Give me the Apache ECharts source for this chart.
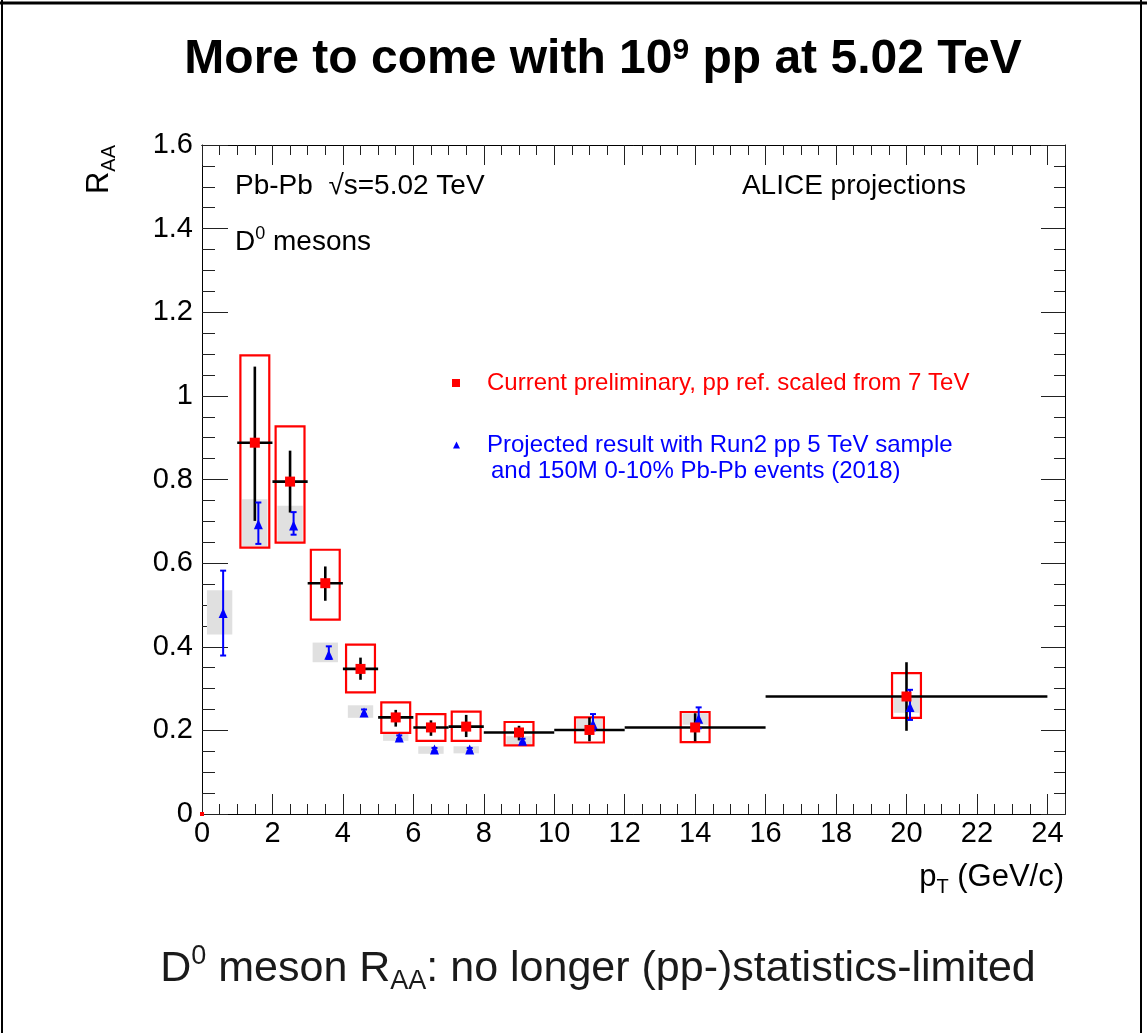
<!DOCTYPE html>
<html><head><meta charset="utf-8">
<script src="https://cdn.jsdelivr.net/npm/echarts@6/dist/echarts.min.js"></script>
<style>html,body{margin:0;padding:0;background:#fff}#c{width:1147px;height:1033px}</style>
</head><body><div id="c"></div>
<script>
// ---- Current preliminary (red) ----
const redX      = [1.5, 2.5, 3.5, 4.5, 5.5, 6.5, 7.5, 9, 11, 14, 20];
const redXLo    = [1, 2, 3, 4, 5, 6, 7, 8, 10, 12, 16];
const redXHi    = [2, 3, 4, 5, 6, 7, 8, 10, 12, 16, 24];
const redY      = [0.888, 0.795, 0.552, 0.347, 0.231, 0.207, 0.209, 0.195, 0.201, 0.207, 0.281];
const redStatLo = [0.701, 0.721, 0.510, 0.321, 0.209, 0.187, 0.184, 0.176, 0.174, 0.174, 0.199];
const redStatHi = [1.070, 0.869, 0.592, 0.374, 0.249, 0.224, 0.237, 0.211, 0.231, 0.241, 0.363];
const redSysLo  = [0.637, 0.649, 0.465, 0.291, 0.194, 0.175, 0.175, 0.164, 0.171, 0.172, 0.230];
const redSysHi  = [1.097, 0.927, 0.632, 0.405, 0.267, 0.239, 0.245, 0.220, 0.231, 0.244, 0.337];
const redOrigin = [[0, 0]];

// ---- Projected (blue) ----
const blueX      = [0.6, 1.6, 2.6, 3.6, 4.6, 5.6, 6.6, 7.6, 9.1, 11.1, 14.1, 20.1];
const blueBoxX   = [0.5, 1.5, 2.5, 3.5, 4.5, 5.5, 6.5, 7.5, 9, 11, 14, 20];
const blueY      = [0.481, 0.693, 0.690, 0.381, 0.243, 0.183, 0.154, 0.154, 0.175, 0.215, 0.228, 0.256];
const blueErrLo  = [0.379, 0.646, 0.668, 0.371, 0.238, 0.179, 0.150, 0.150, 0.171, 0.200, 0.205, 0.225];
const blueErrHi  = [0.582, 0.745, 0.722, 0.401, 0.250, 0.188, 0.158, 0.158, 0.180, 0.239, 0.255, 0.297];
const blueSysLo  = [0.429, 0.640, 0.652, 0.363, 0.230, 0.175, 0.144, 0.145, 0.167, 0.200, 0.2135, 0.242];
const blueSysHi  = [0.535, 0.753, 0.737, 0.410, 0.260, 0.191, 0.162, 0.162, 0.186, 0.227, 0.241, 0.279];

const RED_NAME  = 'Current preliminary, pp ref. scaled from 7 TeV';
const BLUE_NAME = 'Projected result with Run2 pp 5 TeV sample';
const BLUE_NAME2 = 'and 150M 0-10% Pb-Pb events (2018)';

const FONT = 'Liberation Sans, Arial, Helvetica, sans-serif';
const RED_BOX_HW = 0.41, BLUE_BOX_HW = 0.36;

const chart = echarts.init(document.getElementById('c'), null, {renderer: 'canvas'});

function xAx(pos, interval, tickLen, labels) {
  return {
    type: 'value', min: 0, max: 24.5, interval: interval, position: pos, gridIndex: 0,
    axisLine: {show: true, onZero: false, lineStyle: {color: '#000', width: 1}},
    axisTick: {show: true, inside: true, length: tickLen, lineStyle: {color: '#222', width: 1}},
    axisLabel: {show: labels, fontSize: 29, color: '#000', fontFamily: FONT, margin: 5,
      formatter: v => (Math.abs(v % 2) < 1e-9 ? String(v) : '')},
    splitLine: {show: false}
  };
}
function yAx(pos, majorLen, minorLen, labels) {
  return {
    type: 'value', min: 0, max: 1.6, interval: 0.2, position: pos, gridIndex: 0,
    axisLine: {show: true, onZero: false, lineStyle: {color: '#000', width: 1}},
    axisTick: {show: true, inside: true, length: majorLen, lineStyle: {color: '#222', width: 1}},
    minorTick: {show: true, splitNumber: 4, length: minorLen, lineStyle: {color: '#222', width: 1}},
    axisLabel: {show: labels, fontSize: 29, color: '#000', fontFamily: FONT, margin: 9},
    splitLine: {show: false}, minorSplitLine: {show: false}
  };
}

const option = {
  animation: false,
  backgroundColor: '#fff',
  grid: {left: 202, right: 82, top: 145, bottom: 219, containLabel: false},
  xAxis: [xAx('bottom', 2, 20, true), xAx('bottom', 0.5, 10, false), xAx('top', 2, 20, false), xAx('top', 0.5, 10, false)],
  yAxis: [yAx('left', 26, 13, true), yAx('right', 24, 11, false)],
  legend: [
    {data: [{name: RED_NAME, icon: 'rect'}], left: 447, top: 366, itemWidth: 8, itemHeight: 8,
     selectedMode: false, textStyle: {color: '#f00', fontSize: 24, fontFamily: FONT, padding: [0, 0, 0, 22]}},
    {data: [{name: BLUE_NAME, icon: 'triangle'}], left: 448, top: 428, itemWidth: 7, itemHeight: 7,
     selectedMode: false, textStyle: {color: '#00f', fontSize: 24, fontFamily: FONT, padding: [0, 0, 0, 22]}}
  ],
  series: [
    { // blue systematic boxes
      type: 'custom', name: 'blueSys', silent: true, z: 2,
      data: blueBoxX.map((x, i) => [x, blueSysLo[i], blueSysHi[i]]),
      renderItem: (p, api) => {
        const a = api.coord([api.value(0) - BLUE_BOX_HW, api.value(2)]);
        const b = api.coord([api.value(0) + BLUE_BOX_HW, api.value(1)]);
        return {type: 'rect', shape: {x: a[0], y: a[1], width: b[0] - a[0], height: b[1] - a[1]},
                style: {fill: '#e0e0e0'}};
      }
    },
    { // red systematic boxes
      type: 'custom', name: 'redSys', silent: true, z: 3,
      data: redX.map((x, i) => [x, redSysLo[i], redSysHi[i]]),
      renderItem: (p, api) => {
        const a = api.coord([api.value(0) - RED_BOX_HW, api.value(2)]);
        const b = api.coord([api.value(0) + RED_BOX_HW, api.value(1)]);
        return {type: 'rect', shape: {x: a[0], y: a[1], width: b[0] - a[0], height: b[1] - a[1]},
                style: {fill: 'none', stroke: '#ff0000', lineWidth: 2.2}};
      }
    },
    { // black stat errors + bin widths
      type: 'custom', name: 'redStat', silent: true, z: 4,
      data: redX.map((x, i) => [x, redY[i], redXLo[i], redXHi[i], redStatLo[i], redStatHi[i]]),
      renderItem: (p, api) => {
        const l = api.coord([api.value(2), api.value(1)]);
        const r = api.coord([api.value(3), api.value(1)]);
        const t = api.coord([api.value(0), api.value(5)]);
        const b = api.coord([api.value(0), api.value(4)]);
        const st = {stroke: '#000', lineWidth: 2.6};
        return {type: 'group', children: [
          {type: 'line', shape: {x1: l[0], y1: l[1], x2: r[0], y2: r[1]}, style: st},
          {type: 'line', shape: {x1: t[0], y1: t[1], x2: b[0], y2: b[1]}, style: st}
        ]};
      }
    },
    { // blue stat errors
      type: 'custom', name: 'blueStat', silent: true, z: 5,
      data: blueX.map((x, i) => [x, blueErrLo[i], blueErrHi[i]]),
      renderItem: (p, api) => {
        const t = api.coord([api.value(0), api.value(2)]);
        const b = api.coord([api.value(0), api.value(1)]);
        const st = {stroke: '#0000ff', lineWidth: 2};
        const cw = 3;
        return {type: 'group', children: [
          {type: 'line', shape: {x1: t[0], y1: t[1], x2: b[0], y2: b[1]}, style: st},
          {type: 'line', shape: {x1: t[0] - cw, y1: t[1], x2: t[0] + cw, y2: t[1]}, style: st},
          {type: 'line', shape: {x1: b[0] - cw, y1: b[1], x2: b[0] + cw, y2: b[1]}, style: st}
        ]};
      }
    },
    {
      type: 'scatter', name: BLUE_NAME, z: 6, symbol: 'triangle', symbolSize: [9, 10],
      itemStyle: {color: '#0000ff', opacity: 1}, silent: true,
      data: blueX.map((x, i) => [x, blueY[i]])
    },
    {
      type: 'scatter', name: RED_NAME, z: 7, symbol: 'rect', symbolSize: 10,
      itemStyle: {color: '#ff0000', opacity: 1}, silent: true,
      data: redX.map((x, i) => [x, redY[i]])
    },
    {
      type: 'scatter', name: 'origin', z: 7, symbol: 'rect', symbolSize: 4, clip: false,
      itemStyle: {color: '#ff0000', opacity: 1}, silent: true, data: redOrigin
    }
  ],
  graphic: [
    // page frame
    {type: 'line', shape: {x1: 0, y1: 3, x2: 1147, y2: 3}, style: {stroke: '#000', lineWidth: 3}},
    {type: 'line', shape: {x1: 2, y1: 0, x2: 2, y2: 1033}, style: {stroke: '#000', lineWidth: 2}},
    {type: 'line', shape: {x1: 1141, y1: 0, x2: 1141, y2: 1033}, style: {stroke: '#000', lineWidth: 2}},
    // title
    {type: 'text', x: 603, y: 60, style: {
      text: 'More to come with 10{sup|9} pp at 5.02 TeV', fontSize: 48, fontWeight: 'bold',
      fontFamily: FONT, fill: '#000', align: 'center', verticalAlign: 'middle', lineHeight: 48,
      rich: {sup: {fontSize: 30, fontWeight: 'bold', fontFamily: FONT, lineHeight: 30, verticalAlign: 'top'}}}},
    // subtitle
    {type: 'text', x: 598, y: 969, style: {
      text: 'D{sup|0} meson R{sub|AA}: no longer (pp-)statistics-limited', fontSize: 43,
      fontFamily: FONT, fill: '#1a1a1a', align: 'center', verticalAlign: 'middle', lineHeight: 52,
      rich: {sup: {fontSize: 27, fontFamily: FONT, lineHeight: 38, verticalAlign: 'top'},
             sub: {fontSize: 27, fontFamily: FONT, lineHeight: 30, verticalAlign: 'bottom'}}}},
    // y axis title
    {type: 'text', x: 99, y: 145, rotation: Math.PI / 2, style: {
      text: 'R{sub|AA}', fontSize: 31, fontFamily: FONT, fill: '#000', align: 'right',
      verticalAlign: 'middle', lineHeight: 40,
      rich: {sub: {fontSize: 20, fontFamily: FONT, lineHeight: 22, verticalAlign: 'bottom'}}}},
    // x axis title
    {type: 'text', x: 1064, y: 877, style: {
      text: 'p{sub|T} (GeV/c)', fontSize: 31, fontFamily: FONT, fill: '#000', align: 'right',
      verticalAlign: 'middle', lineHeight: 40,
      rich: {sub: {fontSize: 20, fontFamily: FONT, lineHeight: 22, verticalAlign: 'bottom'}}}},
    // in-plot labels
    {type: 'text', x: 235, y: 186, style: {text: 'Pb-Pb  \u221As=5.02 TeV', fontSize: 28,
      fontFamily: FONT, fill: '#000', align: 'left', verticalAlign: 'middle'}},
    {type: 'text', x: 235, y: 242, style: {text: 'D{sup|0} mesons', fontSize: 28,
      fontFamily: FONT, fill: '#000', align: 'left', verticalAlign: 'middle', lineHeight: 34,
      rich: {sup: {fontSize: 18, fontFamily: FONT, lineHeight: 22, verticalAlign: 'top'}}}},
    {type: 'text', x: 966, y: 186, style: {text: 'ALICE projections', fontSize: 28,
      fontFamily: FONT, fill: '#000', align: 'right', verticalAlign: 'middle'}},
    {type: 'text', x: 491, y: 471, style: {text: BLUE_NAME2, fontSize: 24,
      fontFamily: FONT, fill: '#0000ff', align: 'left', verticalAlign: 'middle'}}
  ]
};
chart.setOption(option);
</script>
</body></html>
